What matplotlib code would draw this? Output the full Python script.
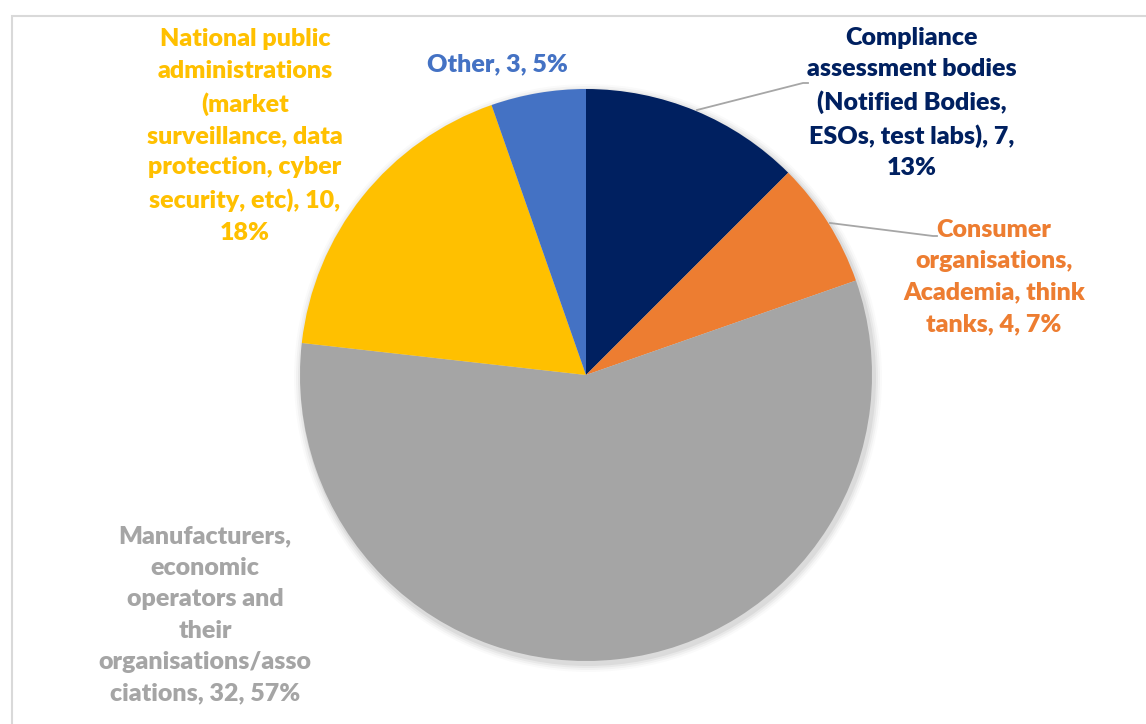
import matplotlib
matplotlib.use("Agg")
import matplotlib.pyplot as plt
from matplotlib.patches import Rectangle, Circle

categories = [
    "Compliance\nassessment bodies\n(Notified Bodies,\nESOs, test labs), 7,\n13%",
    "Consumer\norganisations,\nAcademia, think\ntanks, 4, 7%",
    "Manufacturers,\neconomic\noperators and\ntheir\norganisations/asso\nciations, 32, 57%",
    "National public\nadministrations\n(market\nsurveillance, data\nprotection, cyber\nsecurity, etc), 10,\n18%",
    "Other, 3, 5%",
]
values = [7, 4, 32, 10, 3]
colors = ["#002060", "#ED7D31", "#A5A5A5", "#FFC000", "#4472C4"]

W, H = 1146, 724
fig = plt.figure(figsize=(W / 100, H / 100), dpi=100)
ax = fig.add_axes([0, 0, 1, 1])

def Y(y):
    return H - y

cx, cy, r = 586, Y(375), 286

ax.pie(values, colors=colors, startangle=90, counterclock=False,
       center=(cx, cy), radius=r, frame=True,
       wedgeprops=dict(linewidth=0, zorder=2))
ax.set_xlim(0, W)
ax.set_ylim(0, H)
ax.set_aspect("equal")
ax.axis("off")

# outer frame
ax.add_patch(Rectangle((12, Y(740)), 1200, 740 - 16, fill=False,
                       edgecolor="#D9D9D9", linewidth=1.5, zorder=0))

# soft shadow
for i, a in enumerate([0.05, 0.04, 0.03, 0.02]):
    ax.add_patch(Circle((cx + 2, cy - 3), r + 2 + i * 2, color="black", alpha=a,
                        linewidth=0, zorder=1))

fs = 18
font = "Lato"
label_pos = [(912, 103), (994, 277), (205, 615), (245, 136), (497, 64)]
for lab, col, (x, y) in zip(categories, colors, label_pos):
    ax.text(x, Y(y), lab, color=col, fontsize=fs, fontweight=800,
            family=font, ha="center", va="center", linespacing=1.52, zorder=5)

# leader lines
ax.plot([697, 803, 808], [Y(110), Y(83), Y(83)], color="#A6A6A6", lw=1.3, zorder=4)
ax.plot([830, 933, 937], [Y(223), Y(236), Y(236)], color="#A6A6A6", lw=1.3, zorder=4)

fig.savefig("out.png", dpi=100, facecolor="white")
